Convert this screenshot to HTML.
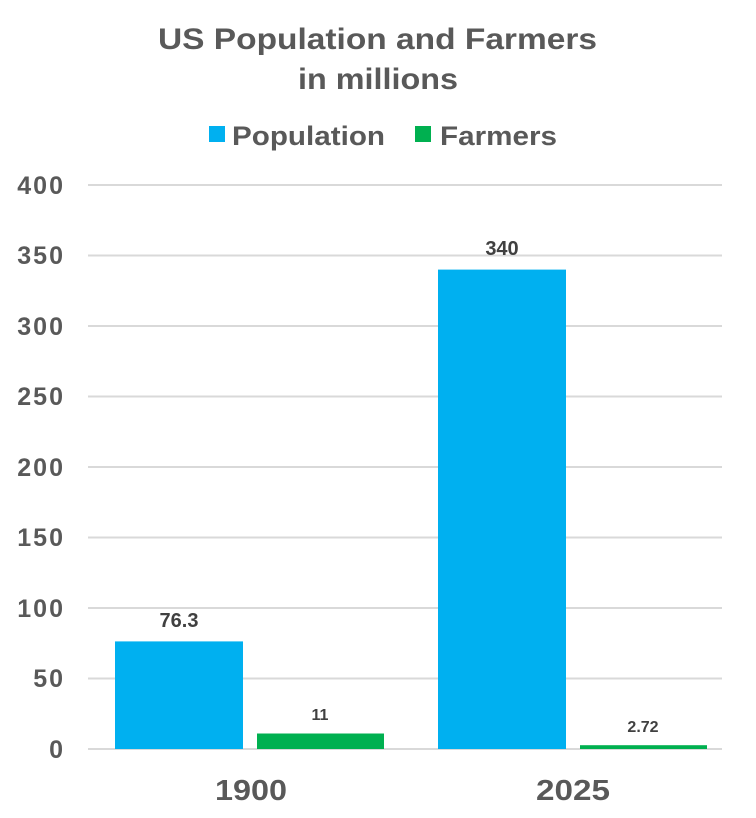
<!DOCTYPE html>
<html><head><style>body{margin:0;background:#fff}svg{display:block}</style></head><body>
<svg width="756" height="818" xmlns="http://www.w3.org/2000/svg" font-family="Liberation Sans, sans-serif" font-weight="bold" fill="#595959">
<text x="158" y="49" font-size="30" textLength="439" lengthAdjust="spacingAndGlyphs">US Population and Farmers</text>
<text x="298" y="89" font-size="30" textLength="160" lengthAdjust="spacingAndGlyphs">in millions</text>
<rect x="209" y="126" width="16" height="16" fill="#00B0F0"/>
<text x="232" y="145" font-size="27" textLength="153" lengthAdjust="spacingAndGlyphs">Population</text>
<rect x="415" y="126" width="16" height="16" fill="#00B050"/>
<text x="440" y="145" font-size="27" textLength="117" lengthAdjust="spacingAndGlyphs">Farmers</text>
<g stroke="#d9d9d9" stroke-width="2">
<line x1="88" x2="722" y1="185" y2="185"/><line x1="88" x2="722" y1="255.5" y2="255.5"/>
<line x1="88" x2="722" y1="326" y2="326"/><line x1="88" x2="722" y1="396.5" y2="396.5"/>
<line x1="88" x2="722" y1="467" y2="467"/><line x1="88" x2="722" y1="537.5" y2="537.5"/>
<line x1="88" x2="722" y1="608" y2="608"/><line x1="88" x2="722" y1="678.5" y2="678.5"/>
<line x1="88" x2="722" y1="749" y2="749"/>
</g>
<g font-size="25" letter-spacing="2" text-anchor="end">
<text x="65" y="194">400</text><text x="65" y="264">350</text><text x="65" y="335">300</text>
<text x="65" y="405">250</text><text x="65" y="476">200</text><text x="65" y="546">150</text>
<text x="65" y="617">100</text><text x="65" y="687">50</text><text x="65" y="758">0</text>
</g>
<rect x="115" y="641.4" width="128" height="107.6" fill="#00B0F0"/>
<rect x="257" y="733.5" width="127" height="15.5" fill="#00B050"/>
<rect x="438" y="269.6" width="128" height="479.4" fill="#00B0F0"/>
<rect x="580" y="745.2" width="127" height="3.8" fill="#00B050"/>
<g fill="#404040" text-anchor="middle">
<text x="179" y="627" font-size="20">76.3</text>
<text x="320" y="720" font-size="16">11</text>
<text x="502" y="255" font-size="20">340</text>
<text x="643" y="732" font-size="16">2.72</text>
</g>
<g font-size="29">
<text x="215" y="800" textLength="72" lengthAdjust="spacingAndGlyphs">1900</text><text x="536" y="800" textLength="74" lengthAdjust="spacingAndGlyphs">2025</text>
</g>
</svg>
</body></html>
